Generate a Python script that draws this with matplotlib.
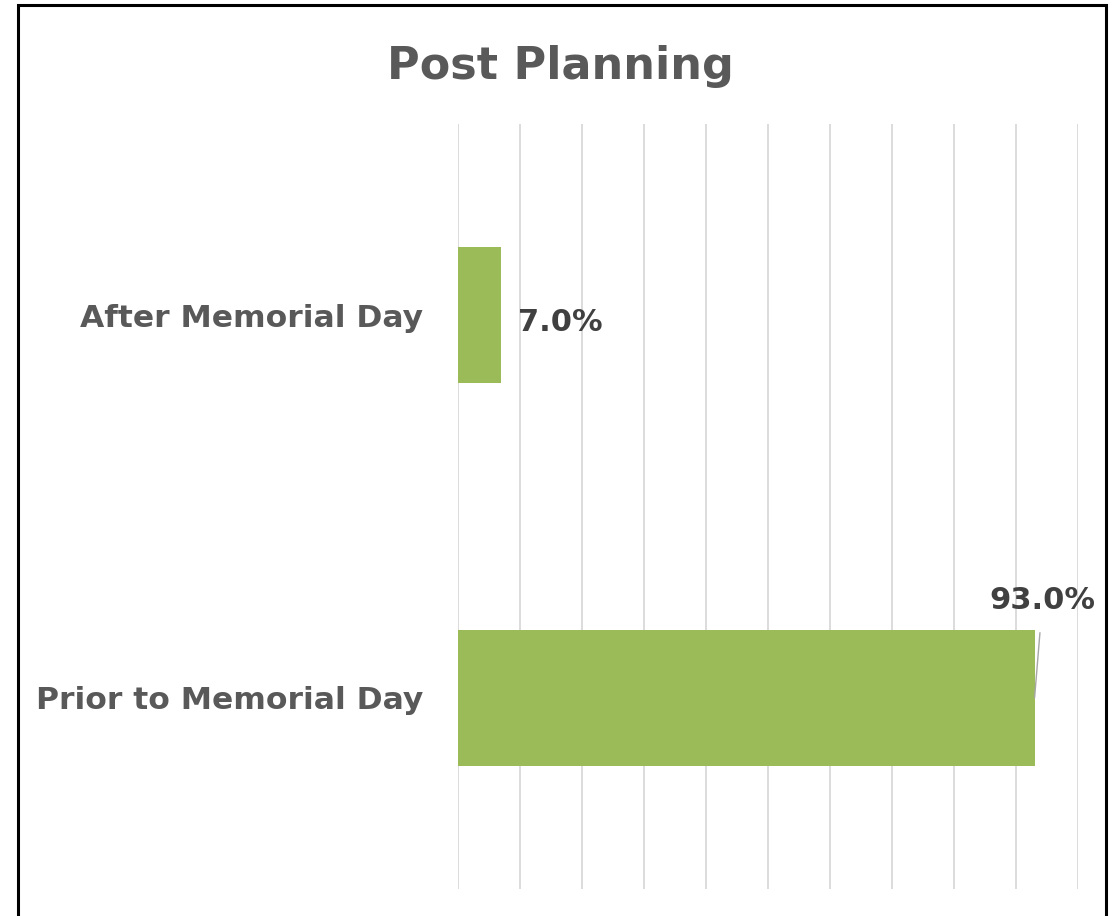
import matplotlib
matplotlib.use("Agg")
import matplotlib.pyplot as plt
from matplotlib.patches import Rectangle

categories = ["Prior to Memorial Day", "After Memorial Day"]
values = [93.0, 7.0]
title = "Post Planning"

bar_color = "#9bbb59"
text_color = "#595959"
label_color = "#404040"

plt.rcParams['font.family'] = ['DejaVu Sans']

fig = plt.figure(figsize=(11.18, 9.16), dpi=100)
ax = fig.add_axes([0.4097, 0.0295, 0.5545, 0.8351])

pos = list(range(len(categories)))
ax.barh(pos, values, height=0.355, color=bar_color, zorder=3)

ax.set_xlim(0, 100)
ax.set_ylim(-0.5, 1.5)
ax.set_xticks(range(0, 101, 10))
ax.xaxis.grid(True, color="#d9d9d9", linewidth=1.3, zorder=0)
ax.tick_params(axis='x', length=0, labelbottom=False)
ax.tick_params(axis='y', length=0, pad=25)
ax.set_yticks(pos)
ax.set_yticklabels(categories, fontsize=22.6, fontweight='bold', color=text_color)
for s in ax.spines.values():
    s.set_visible(False)

# value labels
ax.text(values[1] + 2.6, pos[1] - 0.02, f"{values[1]:.1f}%", ha='left', va='center',
        fontsize=22, fontweight='bold', color=label_color)
ax.annotate(f"{values[0]:.1f}%", xy=(values[0], pos[0]), xytext=(94.3, pos[0] + 0.255),
            ha='center', va='center', fontsize=22, fontweight='bold', color=label_color,
            arrowprops=dict(arrowstyle='-', color="#a6a6a6", lw=1, shrinkA=11, shrinkB=0))

fig.text(0.501, 0.927, title, ha='center', va='center', fontsize=32,
         fontweight='bold', color=text_color)

fig.patches.append(Rectangle((0.0161, -0.02), 0.9732, 1.0145, transform=fig.transFigure,
                             fill=False, edgecolor='black', linewidth=2.2))

fig.savefig("out.png", dpi=100)
